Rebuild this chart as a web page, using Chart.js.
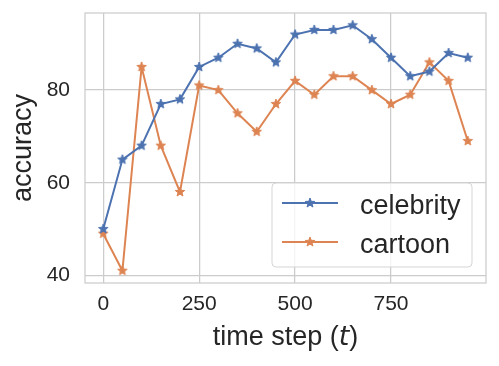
<!DOCTYPE html>
<html>
<head>
<meta charset="utf-8">
<script src="https://cdn.jsdelivr.net/npm/chart.js@4.4.1/dist/chart.umd.min.js"></script>
<style>
  html, body { margin: 0; padding: 0; background: #fff; }
</style>
</head>
<body>
<canvas id="chart" width="499" height="366"></canvas>
<script>
const steps = [0, 50, 100, 150, 200, 250, 300, 350, 400, 450, 500, 550, 600, 650, 700, 750, 800, 850, 900, 950];
const celebrity = [50, 65, 68, 77, 78, 85, 87, 90, 89, 86, 92, 93, 93, 94, 91, 87, 83, 84, 88, 87];
const cartoon = [49, 41, 85, 68, 58, 81, 80, 75, 71, 77, 82, 79, 83, 83, 80, 77, 79, 86, 82, 69];
const xTicks = [0, 250, 500, 750];
const yTicks = [40, 60, 80];

const BLUE = '#4c72b0';
const ORANGE = '#dd8452';
const TEXT = '#262626';
const GRID = '#cccccc';
const FONT = '"Liberation Sans", Arial, sans-serif';

// filled star like matplotlib's '*' marker
function starMarker(color, r) {
  const c = document.createElement('canvas');
  const s = Math.ceil(r * 2 + 2);
  c.width = s; c.height = s;
  const g = c.getContext('2d');
  g.beginPath();
  for (let i = 0; i < 10; i++) {
    const rad = i % 2 ? r * 0.42 : r;
    const a = -Math.PI / 2 + i * Math.PI / 5;
    g.lineTo(s / 2 + rad * Math.cos(a), s / 2 + rad * Math.sin(a));
  }
  g.closePath();
  g.fillStyle = color; g.fill();
  g.strokeStyle = color; g.lineWidth = 1; g.stroke();
  return c;
}

const blueStar = starMarker(BLUE, 5);
const orangeStar = starMarker(ORANGE, 5);

const toPoints = vals => steps.map((t, i) => ({ x: t, y: vals[i] }));

// frame round the plot area (all four spines)
const frame = {
  id: 'frame',
  beforeDatasetsDraw(chart) {
    const { ctx, chartArea: a } = chart;
    ctx.save();
    ctx.strokeStyle = GRID;
    ctx.lineWidth = 1.25;
    ctx.strokeRect(a.left, a.top, a.right - a.left, a.bottom - a.top);
    ctx.restore();
  }
};

// axis titles (x title has an italic t)
const titles = {
  id: 'titles',
  afterDraw(chart) {
    const { ctx, chartArea: a } = chart;
    ctx.save();
    ctx.fillStyle = TEXT;
    ctx.textBaseline = 'alphabetic';
    const parts = [
      ['time step (', '27px ' + FONT],
      ['t', 'italic 27px "DejaVu Sans"'],
      [')', '27px ' + FONT]
    ];
    let w = 0;
    parts.forEach(p => { ctx.font = p[1]; w += ctx.measureText(p[0]).width; });
    let x = (a.left + a.right) / 2 - w / 2;
    parts.forEach(p => {
      ctx.font = p[1];
      ctx.textAlign = 'left';
      ctx.fillText(p[0], x, 345);
      x += ctx.measureText(p[0]).width;
    });
    ctx.translate(31, (a.top + a.bottom) / 2);
    ctx.rotate(-Math.PI / 2);
    ctx.font = '27px ' + FONT;
    ctx.textAlign = 'center';
    ctx.fillText('accuracy', 0, 0);
    ctx.restore();
  }
};

// legend inside the plot, lower right
const innerLegend = {
  id: 'innerLegend',
  afterDraw(chart) {
    const { ctx, chartArea: a } = chart;
    const w = 200, h = 84;
    const left = a.right - 14 - w, top = a.bottom - 16 - h;
    ctx.save();
    ctx.beginPath();
    ctx.roundRect(left, top, w, h, 4);
    ctx.fillStyle = 'rgba(255,255,255,0.8)';
    ctx.fill();
    ctx.strokeStyle = '#d5d5d5';
    ctx.lineWidth = 1;
    ctx.stroke();
    chart.data.datasets.forEach((ds, i) => {
      const y = top + 20 + i * 39;
      ctx.strokeStyle = ds.borderColor;
      ctx.lineWidth = 2;
      ctx.beginPath();
      ctx.moveTo(left + 10, y);
      ctx.lineTo(left + 66, y);
      ctx.stroke();
      const img = ds.pointStyle;
      ctx.drawImage(img, left + 38 - img.width / 2, y - img.height / 2);
      ctx.fillStyle = TEXT;
      ctx.font = '27px ' + FONT;
      ctx.textAlign = 'left';
      ctx.textBaseline = 'alphabetic';
      ctx.fillText(ds.label, left + 88, y + 11);
    });
    ctx.restore();
  }
};

new Chart(document.getElementById('chart'), {
  type: 'line',
  data: {
    datasets: [
      {
        label: 'celebrity',
        data: toPoints(celebrity),
        borderColor: BLUE,
        backgroundColor: BLUE,
        borderWidth: 2,
        pointStyle: blueStar,
        tension: 0
      },
      {
        label: 'cartoon',
        data: toPoints(cartoon),
        borderColor: ORANGE,
        backgroundColor: ORANGE,
        borderWidth: 2,
        pointStyle: orangeStar,
        tension: 0
      }
    ]
  },
  options: {
    responsive: false,
    animation: false,
    devicePixelRatio: 1,
    layout: { padding: { top: 13, right: 13, left: 0, bottom: 0 } },
    plugins: {
      legend: { display: false },
      tooltip: { enabled: false }
    },
    scales: {
      x: {
        type: 'linear',
        min: -47.5,
        max: 997.5,
        afterBuildTicks: s => { s.ticks = xTicks.map(v => ({ value: v })); },
        afterFit: s => { s.height = 83; s.paddingLeft = 0; s.paddingRight = 0; },
        grid: { color: GRID, lineWidth: 1.25, drawTicks: false },
        border: { display: false },
        ticks: {
          padding: 9,
          color: TEXT,
          font: { family: FONT, size: 21 },
          maxRotation: 0
        }
      },
      y: {
        min: 38.35,
        max: 96.65,
        afterBuildTicks: s => { s.ticks = yTicks.map(v => ({ value: v })); },
        afterFit: s => { s.width = 85; s.paddingTop = 0; s.paddingBottom = 0; },
        grid: { color: GRID, lineWidth: 1.25, drawTicks: false },
        border: { display: false },
        ticks: {
          padding: 15,
          color: TEXT,
          font: { family: FONT, size: 21 }
        }
      }
    }
  },
  plugins: [frame, titles, innerLegend]
});
</script>
</body>
</html>
